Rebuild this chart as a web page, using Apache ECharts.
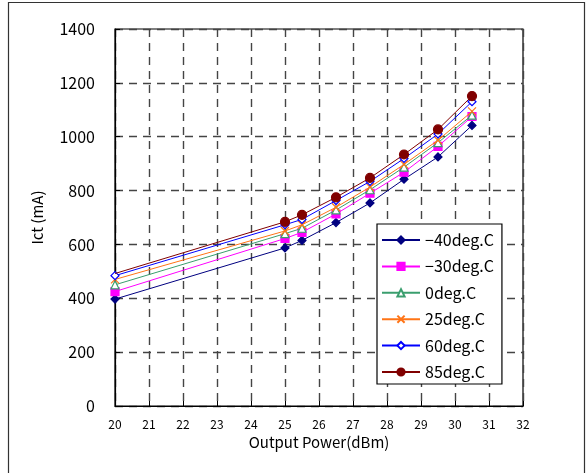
<!DOCTYPE html>
<html>
<head>
<meta charset="utf-8">
<script src="https://cdn.jsdelivr.net/npm/echarts@6/dist/echarts.min.js"></script>
<style>
html,body{margin:0;padding:0;background:#fff;}
#chart{width:587px;height:473px;}
</style>
</head>
<body>
<div id="chart"></div>
<script>
const xValues = [20, 25, 25.5, 26.5, 27.5, 28.5, 29.5, 30.5];
const seriesNames = ['−40deg.C', '−30deg.C', '0deg.C', '25deg.C', '60deg.C', '85deg.C'];
const m40 = [397, 587, 615, 681, 754, 842, 925, 1042];
const m30 = [425, 622, 645, 713, 790, 868, 964, 1075];
const t0  = [450, 640, 660, 728, 803, 887, 978, 1080];
const t25 = [470, 650, 673, 738, 813, 897, 987, 1094];
const t60 = [484, 673, 693, 763, 834, 919, 1010, 1130];
const t85 = [492, 684, 710, 775, 847, 934, 1027, 1151];
const yTicks = [0, 200, 400, 600, 800, 1000, 1200, 1400];
const xTicks = [20, 21, 22, 23, 24, 25, 26, 27, 28, 29, 30, 31, 32];

const FONT = '"Noto Sans CJK JP", "Noto Sans", sans-serif';
const pairs = v => xValues.map((x, i) => [x, v[i]]);

const styles = [
  {color:'#000080', symbol:'diamond', size:8, fill:'#000080'},
  {color:'#FF00FF', symbol:'rect', size:8, fill:'#FF00FF'},
  {color:'#3A9E6E', symbol:'triangle', size:8, fill:'#ffffff'},
  {color:'#FF7416', symbol:'path://M0,0L10,10M10,0L0,10', size:8, fill:'#FF7416'},
  {color:'#0000FF', symbol:'diamond', size:8, fill:'#ffffff'},
  {color:'#800000', symbol:'circle', size:9, fill:'#800000'}
];
const values = [m40, m30, t0, t25, t60, t85];

const series = values.map((v, i) => {
  const s = styles[i];
  let data = pairs(v);
  if (i === 5) {
    data = data.map((p, j) => j === 0 ? {value: p, symbolSize: 0} : p);
  }
  return {
    name: seriesNames[i],
    type: 'line',
    data: data,
    symbol: s.symbol,
    symbolSize: s.size,
    showAllSymbol: true,
    lineStyle: {color: s.color, width: 1},
    itemStyle: {color: s.fill, borderColor: s.color, borderWidth: 1.2},
    emphasis: {disabled: true},
    animation: false,
    z: 3 + i
  };
});

const chart = echarts.init(document.getElementById('chart'), null, {renderer: 'canvas'});
chart.setOption({
  animation: false,
  backgroundColor: '#fff',
  graphic: [{
    type: 'rect',
    shape: {x: 8.5, y: 2.5, width: 576, height: 472},
    style: {fill: 'none', stroke: '#333', lineWidth: 1.2},
    silent: true, z: 0
  }],
  grid: {
    left: 115, right: 64, top: 29, bottom: 67,
    show: true, borderColor: '#000', borderWidth: 1.2, backgroundColor: 'transparent'
  },
  legend: {
    orient: 'vertical',
    left: 377, top: 224,
    width: 122,
    padding: [8, 8, 4, 4],
    itemGap: 10.4,
    itemWidth: 38,
    itemHeight: 9,
    backgroundColor: '#fff',
    borderColor: '#000',
    borderWidth: 1.2,
    textStyle: {fontFamily: FONT, fontSize: 16, color: '#000'},
    data: seriesNames
  },
  xAxis: {
    type: 'value',
    min: xTicks[0], max: xTicks[xTicks.length - 1], interval: 1,
    name: 'Output Power(dBm)',
    nameLocation: 'middle',
    nameGap: 27,
    nameTextStyle: {fontFamily: FONT, fontSize: 15, color: '#000'},
    axisLine: {show: true, lineStyle: {color: '#000', width: 1.2}},
    axisTick: {show: true, inside: true, length: 5, lineStyle: {color: '#000'}},
    axisLabel: {fontFamily: FONT, fontSize: 12, color: '#000', margin: 12},
    splitLine: {show: true, lineStyle: {color: '#444', width: 1.4, type: [8, 6]}}
  },
  yAxis: {
    type: 'value',
    min: yTicks[0], max: yTicks[yTicks.length - 1], interval: 200,
    name: 'Ict (mA)',
    nameLocation: 'middle',
    nameGap: 70,
    nameTextStyle: {fontFamily: FONT, fontSize: 15, color: '#000'},
    axisLine: {show: true, lineStyle: {color: '#000', width: 1.2}},
    axisTick: {show: true, inside: true, length: 5, lineStyle: {color: '#000'}},
    axisLabel: {fontFamily: FONT, fontSize: 16, color: '#000', margin: 20, formatter: v => String(v)},
    splitLine: {show: true, lineStyle: {color: '#444', width: 1.4, type: [8, 6]}}
  },
  series: series
});
</script>
</body>
</html>
